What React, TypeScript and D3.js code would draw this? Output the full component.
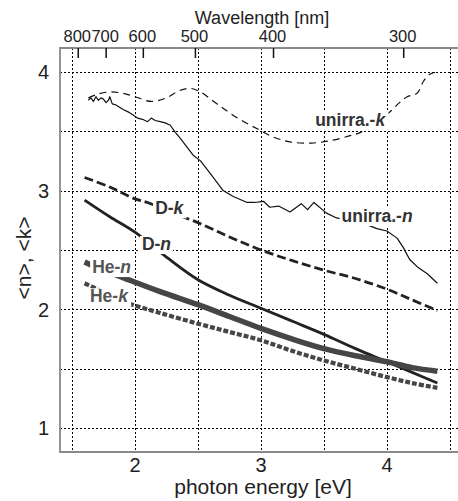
import React, { useEffect, useRef } from "react";
import * as d3 from "d3";

// photon energy [eV] / value pairs
const unirraKEnergy = [1.63, 1.7, 1.8, 1.9, 2.0, 2.13, 2.25, 2.35, 2.44, 2.52, 2.65, 2.8, 2.97, 3.1, 3.23, 3.4, 3.55, 3.7, 3.79, 3.9, 4.02, 4.1, 4.16, 4.24, 4.29, 4.34, 4.4];
const unirraKValue = [3.78, 3.81, 3.83, 3.82, 3.79, 3.75, 3.78, 3.84, 3.86, 3.83, 3.73, 3.62, 3.52, 3.45, 3.41, 3.4, 3.42, 3.46, 3.49, 3.57, 3.66, 3.74, 3.79, 3.82, 3.92, 3.98, 4.0];

const unirraNEnergy = [1.63, 1.65, 1.67, 1.69, 1.71, 1.73, 1.75, 1.77, 1.79, 1.8, 1.82, 1.85, 1.88, 1.91, 1.95, 1.98, 2.02, 2.06, 2.1, 2.13, 2.16, 2.2, 2.24, 2.28, 2.32, 2.36, 2.41, 2.46, 2.52, 2.6, 2.7, 2.78, 2.89, 2.95, 3.02, 3.07, 3.14, 3.23, 3.32, 3.37, 3.42, 3.52, 3.6, 3.71, 3.8, 3.92, 4.0, 4.08, 4.13, 4.18, 4.25, 4.32, 4.4];
const unirraNValue = [3.76, 3.78, 3.75, 3.79, 3.76, 3.78, 3.77, 3.74, 3.76, 3.79, 3.73, 3.72, 3.7, 3.68, 3.66, 3.64, 3.61, 3.6, 3.58, 3.61, 3.59, 3.58, 3.57, 3.55, 3.49, 3.44, 3.37, 3.3, 3.25, 3.14, 3.0, 2.95, 2.9, 2.9, 2.91, 2.86, 2.87, 2.82, 2.89, 2.84, 2.9, 2.81, 2.77, 2.75, 2.73, 2.68, 2.66, 2.6, 2.52, 2.42, 2.35, 2.3, 2.22];

const dKEnergy = [1.6, 1.8, 2.0, 2.1, 2.3, 2.5, 2.75, 3.0, 3.25, 3.5, 3.75, 4.0, 4.2, 4.4];
const dKValue = [3.11, 3.03, 2.93, 2.9, 2.81, 2.73, 2.61, 2.5, 2.41, 2.33, 2.26, 2.17, 2.08, 1.99];

const dNEnergy = [1.6, 1.8, 2.0, 2.25, 2.5, 2.75, 3.0, 3.25, 3.5, 3.75, 4.0, 4.2, 4.4];
const dNValue = [2.92, 2.78, 2.65, 2.44, 2.25, 2.12, 2.01, 1.9, 1.79, 1.67, 1.56, 1.47, 1.38];

const heNEnergy = [1.6, 1.75, 1.9, 2.2, 2.5, 2.75, 3.0, 3.25, 3.5, 3.75, 4.0, 4.2, 4.4];
const heNValue = [2.4, 2.33, 2.27, 2.15, 2.04, 1.94, 1.84, 1.75, 1.67, 1.61, 1.56, 1.51, 1.48];

const heKEnergy = [1.6, 1.7, 1.8, 1.98, 2.2, 2.5, 2.75, 3.0, 3.25, 3.5, 3.75, 4.0, 4.2, 4.4];
const heKValue = [2.22, 2.17, 2.11, 2.04, 1.97, 1.88, 1.81, 1.74, 1.65, 1.57, 1.5, 1.43, 1.38, 1.34];

// axis ticks
const energyTicks = [2, 3, 4];
const valueTicks = [1, 2, 3, 4];
const wavelengthTicks = [800, 700, 600, 500, 400, 300];
const gridEnergy = [1.5, 2, 2.5, 3, 3.5, 4, 4.5];
const gridValue = [1, 1.5, 2, 2.5, 3, 3.5, 4];

const FONT = "'Liberation Sans', Arial, sans-serif";

const App = () => {
    const ref = useRef<SVGSVGElement>(null);

    useEffect(() => {
        const width = 458;
        const height = 501;
        const svg = d3.select(ref.current);
        svg.selectAll("*").remove();
        svg.attr("width", width).attr("height", height);

        const x = d3.scaleLinear().domain([1.405, 4.6]).range([60, 60 + 3.195 * 126]);
        const y = d3.scaleLinear().domain([0.8, 4.2]).range([452, 48]);
        const [x0, x1] = x.range();
        const [y0, y1] = y.range();

        // grid
        const grid = svg.append("g")
            .attr("stroke", "#000")
            .attr("stroke-width", 1)
            .attr("stroke-dasharray", "2,2")
            .attr("shape-rendering", "crispEdges");
        grid.selectAll(".gv")
            .data(gridEnergy)
            .join("line")
            .attr("x1", d => Math.round(x(d)) + 0.5).attr("x2", d => Math.round(x(d)) + 0.5)
            .attr("y1", y1).attr("y2", y0);
        grid.selectAll(".gh")
            .data(gridValue)
            .join("line")
            .attr("x1", x0).attr("x2", x1)
            .attr("y1", d => Math.round(y(d)) + 0.5).attr("y2", d => Math.round(y(d)) + 0.5);

        // frame
        svg.append("path")
            .attr("d", `M${x1},${y1}H${x0}V${y0}H${x1}`)
            .attr("fill", "none")
            .attr("stroke", "#8a8a8a")
            .attr("stroke-width", 1.8);

        // curves
        const makeLine = (curve: d3.CurveFactory) => d3.line<[number, number]>()
            .x(d => x(d[0]))
            .y(d => y(d[1]))
            .curve(curve);
        const zip = (a: number[], b: number[]) => a.map((e, i) => [e, b[i]] as [number, number]);
        const smooth = d3.curveCatmullRom.alpha(0.5);

        const series = [
            { e: unirraKEnergy, v: unirraKValue, color: "#111", w: 1.2, dash: "7,5", curve: smooth },
            { e: unirraNEnergy, v: unirraNValue, color: "#111", w: 1.2, dash: null, curve: d3.curveLinear },
            { e: dKEnergy, v: dKValue, color: "#222", w: 2.8, dash: "9,4", curve: smooth },
            { e: dNEnergy, v: dNValue, color: "#222", w: 2.8, dash: null, curve: smooth },
            { e: heNEnergy, v: heNValue, color: "#464646", w: 5.5, dash: null, curve: smooth },
            { e: heKEnergy, v: heKValue, color: "#464646", w: 4.2, dash: "5,2", curve: smooth },
        ];

        svg.append("g")
            .selectAll("path")
            .data(series)
            .join("path")
            .attr("d", d => makeLine(d.curve)(zip(d.e, d.v)))
            .attr("fill", "none")
            .attr("stroke", d => d.color)
            .attr("stroke-width", d => d.w)
            .attr("stroke-dasharray", d => d.dash)
            .attr("stroke-linejoin", "round");

        // curve labels on white boxes
        const labels = [
            { base: "unirra.-", sub: "k", e: 3.43, v: 3.545, color: "#333" },
            { base: "unirra.-", sub: "n", e: 3.64, v: 2.736, color: "#333" },
            { base: "D-", sub: "k", e: 2.16, v: 2.8, color: "#333" },
            { base: "D-", sub: "n", e: 2.055, v: 2.5, color: "#333" },
            { base: "He-", sub: "n", e: 1.66, v: 2.306, color: "#555" },
            { base: "He-", sub: "k", e: 1.643, v: 2.06, color: "#555" },
        ];
        const labG = svg.append("g");
        labels.forEach(d => {
            const g = labG.append("g");
            const box = g.append("rect").attr("fill", "#fff");
            const t = g.append("text")
                .attr("x", x(d.e))
                .attr("y", y(d.v))
                .attr("fill", d.color)
                .style("font-family", FONT)
                .style("font-size", "17.5px")
                .style("font-weight", "bold");
            t.append("tspan").text(d.base);
            t.append("tspan").style("font-style", "italic").text(d.sub);
            const bb = (t.node() as SVGTextElement).getBBox();
            box.attr("x", bb.x - 2)
                .attr("y", bb.y + 2)
                .attr("width", bb.width + 4)
                .attr("height", bb.height - 2);
        });

        // bottom axis labels
        svg.append("g")
            .selectAll("text")
            .data(energyTicks)
            .join("text")
            .attr("x", d => x(d))
            .attr("y", 472)
            .attr("text-anchor", "middle")
            .style("font-family", FONT)
            .style("font-size", "20px")
            .attr("fill", "#222")
            .text(d => d);

        // left axis labels
        svg.append("g")
            .selectAll("text")
            .data(valueTicks)
            .join("text")
            .attr("x", 49)
            .attr("y", d => y(d))
            .attr("dy", "0.36em")
            .attr("text-anchor", "end")
            .style("font-family", FONT)
            .style("font-size", "20px")
            .attr("fill", "#222")
            .text(d => d);

        // top wavelength axis
        const top = svg.append("g");
        top.selectAll("line")
            .data(wavelengthTicks)
            .join("line")
            .attr("x1", d => x(1239.84 / d)).attr("x2", d => x(1239.84 / d))
            .attr("y1", y1).attr("y2", y1 + 10)
            .attr("stroke", "#111")
            .attr("stroke-width", 1.5);
        top.selectAll("text")
            .data(wavelengthTicks)
            .join("text")
            .attr("x", d => x(1239.84 / d) - 1)
            .attr("y", 42)
            .attr("text-anchor", "middle")
            .style("font-family", FONT)
            .style("font-size", "16.5px")
            .attr("fill", "#222")
            .text(d => d);

        // axis titles
        svg.append("text")
            .attr("x", 262)
            .attr("y", 24)
            .attr("text-anchor", "middle")
            .style("font-family", FONT)
            .style("font-size", "18px")
            .attr("fill", "#222")
            .text("Wavelength [nm]");

        svg.append("text")
            .attr("x", 263)
            .attr("y", 494)
            .attr("text-anchor", "middle")
            .style("font-family", FONT)
            .style("font-size", "21px")
            .attr("fill", "#222")
            .text("photon energy [eV]");

        svg.append("text")
            .attr("transform", "translate(31,258) rotate(-90)")
            .attr("text-anchor", "middle")
            .style("font-family", FONT)
            .style("font-size", "21px")
            .attr("fill", "#222")
            .text("<n>, <k>");
    }, []);

    return <svg ref={ref} style={{ position: "absolute", left: 0, top: 0, background: "#fff" }} />;
};

export default App;
